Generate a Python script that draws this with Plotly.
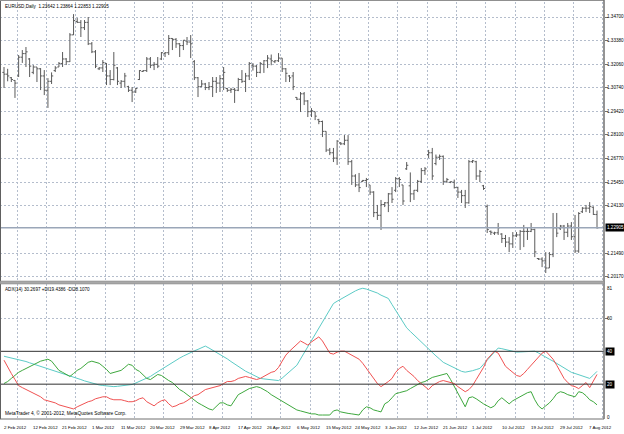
import plotly.graph_objects as go

# ---------------- data ----------------
title_text = "EURUSD,Daily  1.23642 1.23864 1.22853 1.22905"
ind_text = "ADX(14) 30.2697 +DI19.4386 -DI28.1070"
copyright_text = "MetaTrader 4, \u00a9 2001-2012, MetaQuotes Software Corp."

x_labels = ["2 Feb 2012", "12 Feb 2012", "21 Feb 2012", "1 Mar 2012", "11 Mar 2012",
            "20 Mar 2012", "29 Mar 2012", "8 Apr 2012", "17 Apr 2012", "26 Apr 2012",
            "6 May 2012", "15 May 2012", "24 May 2012", "3 Jun 2012", "12 Jun 2012",
            "21 Jun 2012", "1 Jul 2012", "10 Jul 2012", "19 Jul 2012", "29 Jul 2012",
            "7 Aug 2012"]
x_label_bars = [0, 8, 16, 24, 32, 40, 48, 56, 64, 72, 80, 88, 96, 104, 112, 120,
                128, 136, 144, 152, 160]

price_ticks = [1.3470, 1.3338, 1.3206, 1.3074, 1.2942, 1.2810, 1.2677, 1.2545,
               1.2413, 1.2149, 1.2017]
price_tick_text = ["1.34700", "1.33380", "1.32060", "1.30740", "1.29420", "1.28100",
                   "1.26770", "1.25450", "1.24130", "1.21490", "1.20170"]
last_price = 1.22905
last_price_text = "1.22905"

adx_ticks = [81, 60, 0]
adx_levels = [40, 20]

opens = [1.3160, 1.3150, 1.3130, 1.3115, 1.3140, 1.3245, 1.3265, 1.3235, 1.3160, 1.3190,
         1.3180, 1.3140, 1.3060, 1.3110, 1.3170, 1.3190, 1.3210, 1.3235, 1.3220, 1.3370,
         1.3445, 1.3440, 1.3410, 1.3440, 1.3320, 1.3275, 1.3180, 1.3185, 1.3210, 1.3140,
         1.3120, 1.3185, 1.3100, 1.3110, 1.3080, 1.3060, 1.3050, 1.3120, 1.3165, 1.3170,
         1.3235, 1.3200, 1.3205, 1.3235, 1.3265, 1.3270, 1.3350, 1.3345, 1.3320, 1.3310,
         1.3335, 1.3330, 1.3220, 1.3130, 1.3080, 1.3095, 1.3075, 1.3080, 1.3110, 1.3100,
         1.3125, 1.3070, 1.3060, 1.3065, 1.3060, 1.3120, 1.3110, 1.3140, 1.3200, 1.3195,
         1.3160, 1.3205, 1.3225, 1.3235, 1.3220, 1.3225, 1.3240, 1.3180, 1.3140, 1.3140,
         1.3020, 1.3010, 1.3040, 1.3000, 1.2940, 1.2940, 1.2895, 1.2885, 1.2830, 1.2725,
         1.2710, 1.2680, 1.2765, 1.2760, 1.2780, 1.2660, 1.2580, 1.2530, 1.2550, 1.2555,
         1.2530, 1.2490, 1.2375, 1.2360, 1.2420, 1.2430, 1.2480, 1.2500, 1.2565, 1.2530,
         1.2620, 1.2525, 1.2480, 1.2500, 1.2550, 1.2610, 1.2700, 1.2710, 1.2650, 1.2685,
         1.2690, 1.2550, 1.2545, 1.2545, 1.2515, 1.2490, 1.2470, 1.2430, 1.2660, 1.2660,
         1.2580, 1.2525, 1.2410, 1.2270, 1.2260, 1.2262, 1.2255, 1.2230, 1.2210, 1.2200,
         1.2245, 1.2250, 1.2270, 1.2270, 1.2270, 1.2280, 1.2118, 1.2115, 1.2105, 1.2065,
         1.2140, 1.2290, 1.2285, 1.2300, 1.2265, 1.2300, 1.2240, 1.2160, 1.2380, 1.2400,
         1.2400, 1.2405, 1.23642]
highs = [1.3190, 1.3180, 1.3134, 1.3117, 1.3257, 1.3285, 1.3302, 1.3240, 1.3201, 1.3190,
         1.3184, 1.3173, 1.3128, 1.3160, 1.3195, 1.3218, 1.3274, 1.3240, 1.3380, 1.3486,
         1.3464, 1.3453, 1.3453, 1.3470, 1.3330, 1.3285, 1.3190, 1.3229, 1.3212, 1.3173,
         1.3274, 1.3190, 1.3117, 1.3157, 1.3085, 1.3078, 1.3073, 1.3173, 1.3173, 1.3246,
         1.3246, 1.3218, 1.3246, 1.3274, 1.3274, 1.3369, 1.3352, 1.3352, 1.3324, 1.3341,
         1.3358, 1.3369, 1.3229, 1.3134, 1.3117, 1.3101, 1.3106, 1.3134, 1.3134, 1.3145,
         1.3190, 1.3073, 1.3073, 1.3073, 1.3129, 1.3173, 1.3157, 1.3218, 1.3212, 1.3201,
         1.3218, 1.3229, 1.3257, 1.3260, 1.3229, 1.3268, 1.3240, 1.3184, 1.3145, 1.3162,
         1.3022, 1.3050, 1.3050, 1.3005, 1.2960, 1.2940, 1.2900, 1.2890, 1.2830, 1.2737,
         1.2737, 1.2781, 1.2770, 1.2809, 1.2809, 1.2670, 1.2590, 1.2597, 1.2558, 1.2569,
         1.2530, 1.2495, 1.2418, 1.2446, 1.2434, 1.2485, 1.2518, 1.2574, 1.2574, 1.2530,
         1.2658, 1.2600, 1.2502, 1.2558, 1.2625, 1.2630, 1.2726, 1.2737, 1.2700, 1.2700,
         1.2695, 1.2569, 1.2550, 1.2560, 1.2520, 1.2502, 1.2502, 1.2670, 1.2670, 1.2665,
         1.2614, 1.2530, 1.2420, 1.2275, 1.2268, 1.2317, 1.2260, 1.2250, 1.2238, 1.2266,
         1.2266, 1.2278, 1.2306, 1.2294, 1.2317, 1.2285, 1.2121, 1.2125, 1.2154, 1.2154,
         1.2373, 1.2373, 1.2306, 1.2306, 1.2317, 1.2322, 1.2362, 1.2378, 1.2406, 1.2418,
         1.2434, 1.2410, 1.23864]
lows = [1.3073, 1.3110, 1.3106, 1.3017, 1.3134, 1.3213, 1.3190, 1.3134, 1.3150, 1.3106,
        1.3061, 1.3033, 1.2961, 1.3095, 1.3162, 1.3190, 1.3190, 1.3201, 1.3218, 1.3369,
        1.3436, 1.3358, 1.3397, 1.3313, 1.3268, 1.3184, 1.3173, 1.3162, 1.3089, 1.3089,
        1.3115, 1.3089, 1.3073, 1.3078, 1.3050, 1.2994, 1.3045, 1.3117, 1.3162, 1.3162,
        1.3184, 1.3173, 1.3184, 1.3229, 1.3246, 1.3257, 1.3285, 1.3297, 1.3246, 1.3285,
        1.3313, 1.3240, 1.3117, 1.3022, 1.3078, 1.3061, 1.3061, 1.3022, 1.3045, 1.3050,
        1.3061, 1.3050, 1.3045, 1.2989, 1.3055, 1.3101, 1.3050, 1.3117, 1.3170, 1.3134,
        1.3155, 1.3157, 1.3184, 1.3200, 1.3212, 1.3218, 1.3162, 1.3106, 1.3106, 1.3061,
        1.3005, 1.2938, 1.2977, 1.2910, 1.2910, 1.2893, 1.2870, 1.2798, 1.2714, 1.2697,
        1.2658, 1.2642, 1.2753, 1.2753, 1.2642, 1.2530, 1.2518, 1.2490, 1.2546, 1.2518,
        1.2474, 1.2350, 1.2334, 1.2278, 1.2406, 1.2378, 1.2429, 1.2490, 1.2518, 1.2418,
        1.2614, 1.2434, 1.2446, 1.2490, 1.2541, 1.2586, 1.2681, 1.2558, 1.2640, 1.2670,
        1.2530, 1.2541, 1.2540, 1.2510, 1.2457, 1.2429, 1.2401, 1.2425, 1.2653, 1.2558,
        1.2546, 1.2502, 1.2261, 1.2250, 1.2250, 1.2250, 1.2205, 1.2182, 1.2154, 1.2177,
        1.2238, 1.2166, 1.2182, 1.2222, 1.2266, 1.2126, 1.2110, 1.2070, 1.2037, 1.2065,
        1.2126, 1.2238, 1.2278, 1.2222, 1.2238, 1.2222, 1.2149, 1.2150, 1.2373, 1.2378,
        1.2373, 1.2362, 1.22853]
closes = [1.3150, 1.3140, 1.3120, 1.3100, 1.3245, 1.3265, 1.3275, 1.3195, 1.3190, 1.3180,
          1.3140, 1.3060, 1.3110, 1.3140, 1.3185, 1.3210, 1.3235, 1.3220, 1.3370, 1.3450,
          1.3440, 1.3410, 1.3440, 1.3320, 1.3275, 1.3195, 1.3185, 1.3215, 1.3140, 1.3120,
          1.3200, 1.3110, 1.3110, 1.3140, 1.3060, 1.3050, 1.3070, 1.3170, 1.3170, 1.3235,
          1.3200, 1.3205, 1.3195, 1.3270, 1.3270, 1.3350, 1.3345, 1.3320, 1.3310, 1.3340,
          1.3330, 1.3320, 1.3130, 1.3080, 1.3095, 1.3075, 1.3080, 1.3110, 1.3100, 1.3125,
          1.3160, 1.3060, 1.3065, 1.3060, 1.3120, 1.3110, 1.3140, 1.3210, 1.3195, 1.3160,
          1.3210, 1.3225, 1.3240, 1.3225, 1.3225, 1.3240, 1.3180, 1.3155, 1.3130, 1.3080,
          1.3010, 1.3040, 1.3000, 1.2940, 1.2945, 1.2915, 1.2885, 1.2830, 1.2725, 1.2710,
          1.2680, 1.2775, 1.2760, 1.2780, 1.2660, 1.2580, 1.2530, 1.2515, 1.2555, 1.2560,
          1.2490, 1.2375, 1.2360, 1.2420, 1.2430, 1.2480, 1.2450, 1.2565, 1.2560, 1.2440,
          1.2640, 1.2480, 1.2500, 1.2550, 1.2610, 1.2620, 1.2710, 1.2580, 1.2685, 1.2690,
          1.2550, 1.2560, 1.2548, 1.2515, 1.2490, 1.2470, 1.2430, 1.2660, 1.2665, 1.2580,
          1.2605, 1.2510, 1.2280, 1.2265, 1.2262, 1.2290, 1.2230, 1.2210, 1.2200, 1.2245,
          1.2250, 1.2270, 1.2270, 1.2270, 1.2280, 1.2155, 1.2115, 1.2105, 1.2065, 1.2140,
          1.2290, 1.2260, 1.2300, 1.2265, 1.2300, 1.2240, 1.2160, 1.2370, 1.2400, 1.2400,
          1.2410, 1.2365, 1.22905]

adx = [37.0, 36.5, 36.0, 35.6, 35.1, 34.6, 33.8, 33.0, 32.3, 31.6,
       30.9, 30.2, 29.4, 28.7, 28.0, 27.2, 26.5, 25.7, 25.0, 24.2,
       23.5, 22.8, 22.0, 21.3, 20.5, 19.8, 19.5, 19.2, 18.9, 18.7,
       18.5, 18.7, 19.0, 19.3, 19.6, 19.8, 20.7, 21.7, 22.7, 23.7,
       24.7, 26.2, 27.6, 29.1, 30.6, 32.1, 33.4, 34.6, 35.9, 37.1,
       38.3, 39.3, 40.3, 41.2, 42.2, 43.2, 42.0, 40.7, 39.5, 38.2,
       37.0, 35.4, 33.8, 32.2, 30.6, 29.0, 27.9, 26.8, 25.7, 24.6,
       23.5, 23.2, 23.0, 22.7, 22.5, 22.2, 23.7, 25.7, 27.6, 29.6,
       31.5, 35.3, 39.1, 42.9, 46.8, 50.6, 54.3, 58.0, 61.7, 65.4,
       69.1, 70.5, 71.8, 73.2, 74.5, 75.9, 76.8, 77.8, 78.4, 77.9,
       77.2, 76.5, 75.5, 74.2, 73.0, 72.2, 68.5, 64.9, 61.3, 57.8,
       54.3, 52.1, 49.9, 47.6, 45.4, 43.2, 41.2, 39.2, 37.2, 35.3,
       33.3, 32.2, 31.1, 30.0, 28.9, 27.8, 27.3, 27.6, 28.2, 28.9,
       29.6, 32.1, 34.6, 37.1, 39.6, 42.0, 41.6, 41.0, 40.5, 40.0,
       39.5, 39.6, 39.8, 39.9, 40.1, 40.1, 39.0, 37.6, 36.4, 35.2,
       34.0, 32.6, 31.3, 29.9, 28.5, 27.2, 26.5, 25.8, 25.0, 24.2,
       23.5, 25.5, 27.8]
minus_di = [34.6, 30.2, 26.5, 22.8, 19.1, 17.9, 16.7, 15.4, 14.2, 13.0,
            12.3, 10.5, 9.9, 9.3, 8.6, 7.4, 6.8, 6.2, 5.6, 4.9,
            6.2, 7.4, 8.6, 9.3, 9.9, 11.1, 11.7, 12.3, 12.3, 11.1,
            10.5, 10.5, 10.5, 9.9, 9.3, 9.3, 9.9, 11.1, 11.7, 9.3,
            8.0, 6.8, 8.6, 9.9, 10.5, 8.0, 6.2, 6.8, 8.0, 8.6,
            9.9, 11.7, 13.0, 13.6, 15.4, 16.7, 17.3, 17.9, 18.5, 19.1,
            20.4, 21.6, 21.6, 22.2, 23.5, 24.1, 24.7, 24.1, 23.5, 22.8,
            23.5, 24.7, 25.9, 27.2, 27.8, 30.2, 34.0, 37.7, 40.1, 42.0,
            43.8, 46.3, 45.1, 43.8, 45.7, 47.5, 48.8, 46.3, 42.6, 38.9,
            38.3, 39.5, 40.1, 40.1, 38.9, 37.7, 36.4, 35.2, 32.7, 29.6,
            26.5, 23.5, 20.4, 18.5, 19.8, 21.6, 23.5, 27.2, 29.6, 30.9,
            28.4, 26.5, 24.7, 22.2, 20.4, 18.5, 16.7, 19.1, 20.4, 21.6,
            22.2, 21.6, 21.0, 20.4, 18.5, 16.7, 15.4, 16.7, 19.1, 22.8,
            26.5, 30.2, 35.2, 37.7, 40.1, 38.9, 35.2, 30.9, 29.0, 27.2,
            25.3, 24.7, 26.5, 29.0, 31.5, 34.0, 37.0, 38.9, 40.1, 37.7,
            35.2, 31.5, 27.8, 23.5, 21.0, 19.1, 18.5, 17.3, 19.1, 21.0,
            17.9, 22.2, 25.9]
plus_di = [20.4, 21.6, 23.5, 25.3, 27.2, 28.4, 29.6, 30.9, 32.1, 33.3,
           34.0, 34.6, 35.2, 34.0, 30.9, 28.4, 27.2, 25.9, 24.7, 26.5,
           28.4, 29.6, 31.5, 33.3, 34.0, 33.3, 32.7, 30.9, 29.0, 26.5,
           27.2, 27.8, 28.4, 30.2, 32.1, 31.5, 29.0, 27.8, 25.9, 23.5,
           22.8, 24.1, 25.9, 25.3, 23.5, 22.2, 21.0, 19.1, 16.7, 15.4,
           13.6, 12.3, 10.5, 8.6, 7.4, 6.2, 4.9, 4.3, 6.2, 8.6,
           8.6, 7.4, 6.8, 10.5, 13.6, 14.8, 16.0, 17.3, 17.9, 18.5,
           17.9, 16.7, 15.4, 13.6, 12.3, 10.5, 9.3, 8.0, 6.8, 5.6,
           4.3, 3.7, 3.1, 2.5, 1.9, 1.9, 1.2, 1.2, 1.2, 1.2,
           3.7, 4.3, 3.1, 2.5, 2.2, 1.9, 1.5, 1.2, 4.3, 6.2,
           5.6, 4.3, 3.7, 3.1, 8.0, 9.3, 11.7, 14.2, 14.8, 15.4,
           16.0, 17.3, 18.5, 19.8, 21.0, 21.6, 22.8, 24.1, 24.7, 25.3,
           25.9, 26.5, 22.8, 18.5, 14.2, 10.5, 6.2, 11.7, 12.3, 11.1,
           9.3, 8.0, 6.8, 5.6, 6.8, 9.9, 11.7, 9.9, 8.0, 9.9,
           11.1, 12.3, 13.6, 14.8, 15.4, 10.5, 6.8, 4.9, 6.8, 8.6,
           11.1, 14.2, 15.4, 14.8, 13.6, 13.0, 12.3, 15.4, 14.8, 13.0,
           10.5, 9.3, 7.4]

# ---------------- layout helpers ----------------
W, H = 624, 434
PLOT_R = 604            # right edge of the chart panes (px)
P_TOP, P_BOT = 2, 281   # price pane
I_TOP, I_BOT = 284, 419  # indicator pane
PX_PER_BAR = 3.6605
FIRST_BAR_PX = 4


def fx(px):
    return px / W


def fy(py):
    return 1 - py / H


r0 = -FIRST_BAR_PX / PX_PER_BAR
r1 = r0 + PLOT_R / PX_PER_BAR


def price_at(py):
    return 1.3470 - (py - 17) / 1786.5


ind_per_px = 81 / (417 - I_TOP)
ind_lo = -(I_BOT - 417) * ind_per_px
ind_hi = 81

bars = list(range(len(opens)))
grid_bars = [3.6 + 8 * k for k in range(21) if 3.6 + 8 * k < r1]

GRID = "#b4bdcc"
GRID_DASH = "2px,2px"
FONT = "Liberation Sans"

fig = go.Figure()
fig.add_trace(go.Ohlc(
    x=bars, open=opens, high=highs, low=lows, close=closes,
    increasing=dict(line=dict(color="#5a5a5a", width=1)),
    decreasing=dict(line=dict(color="#5a5a5a", width=1)),
    tickwidth=0.45, xaxis="x", yaxis="y", hoverinfo="skip", showlegend=False))

fig.add_trace(go.Scatter(x=bars, y=adx, mode="lines", xaxis="x2", yaxis="y2",
                         line=dict(color="#5ccbc6", width=1), showlegend=False, hoverinfo="skip"))
fig.add_trace(go.Scatter(x=bars, y=plus_di, mode="lines", xaxis="x2", yaxis="y2",
                         line=dict(color="#3ea83e", width=1), showlegend=False, hoverinfo="skip"))
fig.add_trace(go.Scatter(x=bars, y=minus_di, mode="lines", xaxis="x2", yaxis="y2",
                         line=dict(color="#f05252", width=1), showlegend=False, hoverinfo="skip"))

axis_common = dict(showline=False, zeroline=False, showticklabels=False, fixedrange=True)

fig.update_layout(
    width=W, height=H, margin=dict(l=0, r=0, t=0, b=0),
    paper_bgcolor="white", plot_bgcolor="white", showlegend=False,
    font=dict(family=FONT, size=5, color="black"),
    xaxis=dict(domain=[0, fx(PLOT_R)], range=[r0, r1], anchor="y",
               tickmode="array", tickvals=grid_bars, showgrid=True, gridcolor=GRID,
               griddash=GRID_DASH, gridwidth=1, ticks="", rangeslider=dict(visible=False),
               **axis_common),
    xaxis2=dict(domain=[0, fx(PLOT_R)], range=[r0, r1], anchor="y2",
                tickmode="array", tickvals=grid_bars, showgrid=True, gridcolor=GRID,
                griddash=GRID_DASH, gridwidth=1, ticks="", **axis_common),
    yaxis=dict(domain=[fy(P_BOT), fy(P_TOP)], range=[price_at(P_BOT), price_at(P_TOP)],
               anchor="x", side="right", tickmode="array", tickvals=price_ticks,
               showgrid=True, gridcolor=GRID, griddash=GRID_DASH, gridwidth=1,
               ticks="outside", ticklen=3, tickcolor="#707070", **axis_common),
    yaxis2=dict(domain=[fy(I_BOT), fy(I_TOP)], range=[ind_lo, ind_hi],
                anchor="x2", side="right", tickmode="array", tickvals=[60],
                showgrid=True, gridcolor=GRID, griddash=GRID_DASH, gridwidth=1,
                ticks="outside", ticklen=3, tickcolor="#707070", **axis_common),
)

shapes = []
shapes.append(dict(type="line", xref="x", yref="y", x0=r0, x1=r1, y0=last_price, y1=last_price,
                   line=dict(color="#9aa6b8", width=1.5)))
for lv in adx_levels:
    shapes.append(dict(type="line", xref="x2", yref="y2", x0=r0, x1=r1, y0=lv, y1=lv,
                       line=dict(color="#303030", width=1)))
shapes.append(dict(type="line", xref="paper", yref="paper", x0=fx(0.5), x1=fx(0.5),
                   y0=fy(0), y1=fy(I_BOT), line=dict(color="#606060", width=1)))
shapes.append(dict(type="line", xref="paper", yref="paper", x0=0, x1=fx(PLOT_R),
                   y0=fy(0.5), y1=fy(0.5), line=dict(color="#909090", width=1)))
shapes.append(dict(type="line", xref="paper", yref="paper", x0=fx(PLOT_R), x1=fx(PLOT_R),
                   y0=fy(0), y1=fy(I_BOT), line=dict(color="#707070", width=1.5)))
shapes.append(dict(type="line", xref="paper", yref="paper", x0=0, x1=fx(PLOT_R),
                   y0=fy(I_BOT), y1=fy(I_BOT), line=dict(color="#707070", width=1)))
shapes.append(dict(type="rect", xref="paper", yref="paper", x0=0, x1=fx(PLOT_R),
                   y0=fy(I_TOP), y1=fy(P_BOT), fillcolor="#a8a8a8",
                   line=dict(color="#808080", width=0.5)))
fig.update_layout(shapes=shapes)

ann = []
ann.append(dict(text=title_text, xref="paper", yref="paper", x=fx(3), y=fy(7),
                xanchor="left", yanchor="middle", showarrow=False,
                font=dict(size=4.6, color="black")))
ann.append(dict(text=ind_text, xref="paper", yref="paper", x=fx(3), y=fy(289),
                xanchor="left", yanchor="middle", showarrow=False,
                font=dict(size=4.6, color="black")))
ann.append(dict(text=copyright_text, xref="paper", yref="paper", x=fx(3), y=fy(413),
                xanchor="left", yanchor="middle", showarrow=False,
                font=dict(size=4.8, color="black")))
for v, t in zip(price_ticks, price_tick_text):
    ann.append(dict(text=t, xref="paper", yref="y", x=fx(PLOT_R + 1), y=v,
                    xanchor="left", yanchor="middle", showarrow=False,
                    font=dict(size=4.6, color="black")))
ann.append(dict(text=last_price_text, xref="paper", yref="y", x=fx(PLOT_R + 1), y=last_price,
                xanchor="left", yanchor="middle", showarrow=False, bgcolor="black",
                borderpad=1, font=dict(size=4.6, color="white")))
for v in adx_ticks:
    ann.append(dict(text=str(v), xref="paper", yref="y2", x=fx(PLOT_R + 1), y=v,
                    xanchor="left", yanchor="top" if v == 81 else "middle",
                    showarrow=False, font=dict(size=4.6, color="black")))
for lv in adx_levels:
    ann.append(dict(text=str(lv), xref="paper", yref="y2", x=fx(PLOT_R + 1), y=lv,
                    xanchor="left", yanchor="middle", showarrow=False, bgcolor="black",
                    borderpad=1, font=dict(size=4.6, color="white")))
for b, t in zip(x_label_bars, x_labels):
    ann.append(dict(text=t, xref="x2", yref="paper", x=b - 0.6, y=fy(427),
                    xanchor="left", yanchor="middle", showarrow=False,
                    font=dict(size=4.4, color="black")))
fig.update_layout(annotations=ann)

fig.write_html("out.html",
               config={"displayModeBar": False, "staticPlot": True},
               post_script="document.body.style.margin='0';document.body.style.padding='0';"
                           "document.body.style.overflow='hidden';")
